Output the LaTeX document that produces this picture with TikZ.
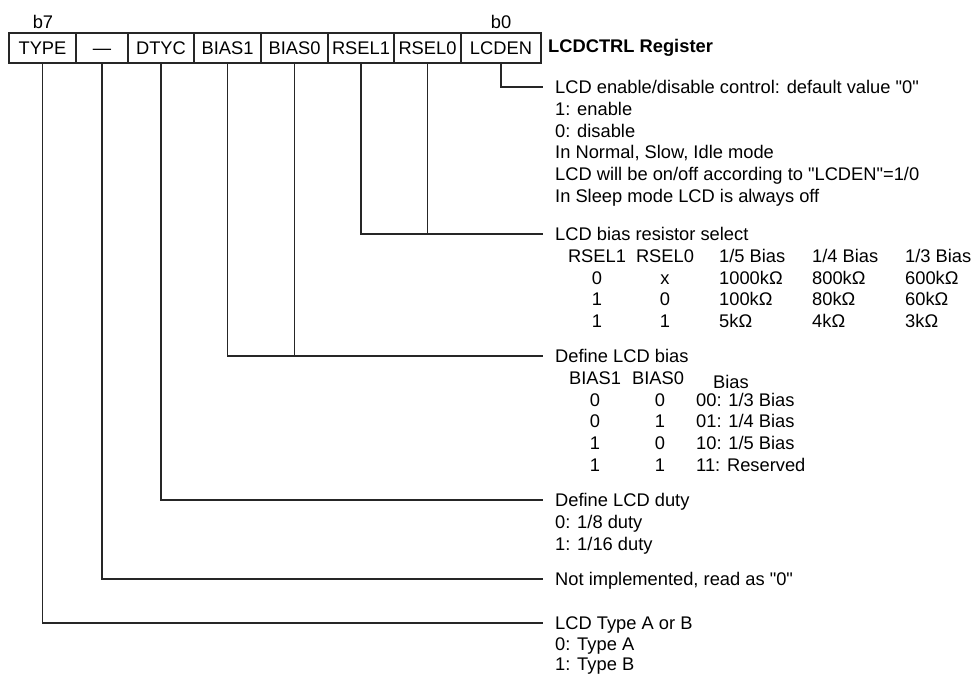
\documentclass[tikz,border=0pt]{standalone}
\usepackage{fontspec}
\setmainfont{Liberation Sans}[Ligatures=TeXOff]
\begin{document}
\begin{tikzpicture}[x=1pt,y=-1pt,
  conn/.style={line width=1.3pt, draw=black!85},
  cell/.style={draw=black!85, line width=1.3pt, minimum height=30pt, inner sep=0pt,
     text height=13.2pt, text depth=0pt,
     font=\fontsize{18.3}{21.7}\selectfont},
  txt/.style={font=\fontsize{18.3}{21.7}\selectfont, inner sep=0pt, anchor=base west},
  ctxt/.style={font=\fontsize{18.3}{21.7}\selectfont, inner sep=0pt, anchor=base},
  lbl/.style={font=\fontsize{18.3}{21.7}\selectfont, inner sep=0pt}]
\useasboundingbox (0,0) rectangle (972,675);
% register cells
\node[cell, minimum width=67pt] (type)  at (42.5,48) {TYPE};
\node[cell, minimum width=52pt] (dash)  at (102,48)  {—};
\node[cell, minimum width=66pt] (dtyc)  at (161,48)  {DTYC};
\node[cell, minimum width=67pt] (bias1) at (227.5,48) {BIAS1};
\node[cell, minimum width=67pt] (bias0) at (294.5,48) {BIAS0};
\node[cell, minimum width=66pt] (rsel1) at (361,48)  {RSEL1};
\node[cell, minimum width=67pt] (rsel0) at (427.5,48) {RSEL0};
\node[cell, minimum width=80pt] (lcden) at (501,48)  {LCDEN};
\node[lbl] (b7) at (43,22) {b7};
\node[lbl] (b0) at (501,22) {b0};
\node[lbl, anchor=west, font=\fontsize{18.3}{21.7}\selectfont\bfseries] (title) at (548,48) {LCDCTRL Register};
% connector ends
\coordinate (e1) at (543,87);
\coordinate (e2) at (543,234);
\coordinate (e3) at (543,356);
\coordinate (e4) at (543,500);
\coordinate (e5) at (543,579);
\coordinate (e6) at (543,623);
\draw[conn] (lcden.south) |- (e1);
\draw[conn] (rsel1.south) |- (e2);
\draw[conn] (rsel0.south) -- (rsel0.south |- e2);
\draw[conn] (bias1.south) |- (e3);
\draw[conn] (bias0.south) -- (bias0.south |- e3);
\draw[conn] (dtyc.south) |- (e4);
\draw[conn] (dash.south) |- (e5);
\draw[conn] (type.south) |- (e6);
% LCDEN description
\node[txt] (a1) at (555,93.6)  {LCD enable/disable control: default value "0"};
\node[txt] (a2) at (555,115.3) {1: enable};
\node[txt] (a3) at (555,137.0) {0: disable};
\node[txt] (a4) at (555,158.7) {In Normal, Slow, Idle mode};
\node[txt] (a5) at (555,180.4) {LCD will be on/off according to "LCDEN"=1/0};
\node[txt] (a6) at (555,202.1) {In Sleep mode LCD is always off};
% RSEL description
\node[txt] (r0) at (555,240.6) {LCD bias resistor select};
\node[ctxt] (rh1) at (597,262.3) {RSEL1};
\node[ctxt] (rh2) at (665,262.3) {RSEL0};
\node[txt] (rh3) at (719,262.3) {1/5 Bias};
\node[txt] (rh4) at (812,262.3) {1/4 Bias};
\node[txt] (rh5) at (905,262.3) {1/3 Bias};
\node[ctxt] (ra1) at (597,284.0) {0};
\node[ctxt] (ra2) at (665,284.0) {x};
\node[txt] (ra3) at (719,284.0) {1000kΩ};
\node[txt] (ra4) at (812,284.0) {800kΩ};
\node[txt] (ra5) at (905,284.0) {600kΩ};
\node[ctxt] (rb1) at (597,305.7) {1};
\node[ctxt] (rb2) at (665,305.7) {0};
\node[txt] (rb3) at (719,305.7) {100kΩ};
\node[txt] (rb4) at (812,305.7) {80kΩ};
\node[txt] (rb5) at (905,305.7) {60kΩ};
\node[ctxt] (rc1) at (597,327.4) {1};
\node[ctxt] (rc2) at (665,327.4) {1};
\node[txt] (rc3) at (719,327.4) {5kΩ};
\node[txt] (rc4) at (812,327.4) {4kΩ};
\node[txt] (rc5) at (905,327.4) {3kΩ};
% BIAS description
\node[txt] (s0) at (555,362.6) {Define LCD bias};
\node[ctxt] (sh1) at (595,384.3) {BIAS1};
\node[ctxt] (sh2) at (658,384.3) {BIAS0};
\node[txt] (sh3) at (713,388.3) {Bias};
\node[ctxt] (sa1) at (595,406.0) {0};
\node[ctxt] (sa2) at (660,406.0) {0};
\node[txt] (sa3) at (696,406.0) {00: 1/3 Bias};
\node[ctxt] (sb1) at (595,427.7) {0};
\node[ctxt] (sb2) at (660,427.7) {1};
\node[txt] (sb3) at (696,427.7) {01: 1/4 Bias};
\node[ctxt] (sc1) at (595,449.4) {1};
\node[ctxt] (sc2) at (660,449.4) {0};
\node[txt] (sc3) at (696,449.4) {10: 1/5 Bias};
\node[ctxt] (sd1) at (595,471.1) {1};
\node[ctxt] (sd2) at (660,471.1) {1};
\node[txt] (sd3) at (696,471.1) {11: Reserved};
% DTYC description
\node[txt] (t0) at (555,506.6) {Define LCD duty};
\node[txt] (t1) at (555,528.3) {0: 1/8 duty};
\node[txt] (t2) at (555,550.0) {1: 1/16 duty};
% not implemented
\node[txt] (u0) at (555,585.6) {Not implemented, read as "0"};
% TYPE description
\node[txt] (v0) at (555,629.6) {LCD Type A or B};
\node[txt] (v1) at (555,650.1) {0: Type A};
\node[txt] (v2) at (555,670.4) {1: Type B};
\end{tikzpicture}
\end{document}
